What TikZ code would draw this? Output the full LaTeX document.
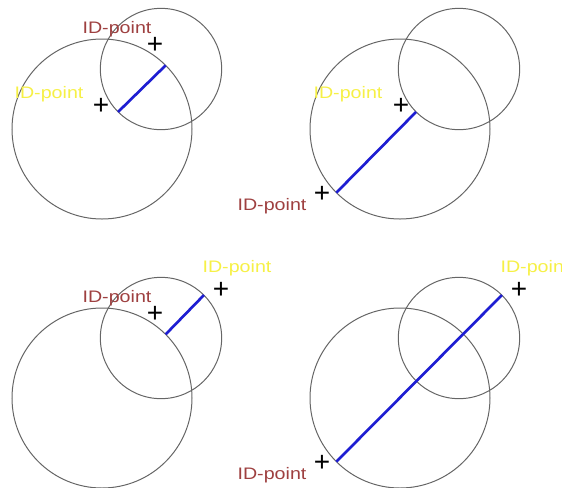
\documentclass[tikz,border=0pt]{standalone}
\usepackage{fontspec}
\setmainfont{Liberation Sans}
\definecolor{idred}{RGB}{158,64,64}
\definecolor{idyellow}{RGB}{246,240,70}
\definecolor{segblue}{RGB}{30,30,210}
\newcommand{\idtext}{\scalebox{1.18}[1]{ID-point}}
\begin{document}
\begin{tikzpicture}[x=0.75pt, y=-0.75pt,
  ring/.style={draw=black!60, line width=0.75pt, circle, inner sep=0pt, outer sep=0pt},
  bigring/.style={ring, minimum size=135pt},
  smallring/.style={ring, minimum size=91pt},
  plusmark/.style={inner sep=0pt, font=\fontsize{21}{21}\selectfont},
  idlabel/.style={inner sep=0pt, anchor=base, font=\fontsize{12.5}{12.5}\selectfont},
  seg/.style={draw=segblue, line width=2pt}]
\useasboundingbox (0,0) rectangle (562,487);
\clip (0,0) rectangle (562,487);

% top left: overlap of both circles
\begin{scope}
\node[bigring] (big1) at (102,129) {};
\node[smallring] (small1) at (161,69) {};
\draw[seg] (small1.225) -- (big1.45);
\node[plusmark] (plusA1) at (155,45) {+};
\node[plusmark] (plusB1) at (101,106) {+};
\node[idlabel, text=idred] (idA1) at (117,33) {\idtext};
\node[idlabel, text=idyellow] (idB1) at (49,98) {\idtext};
\end{scope}

% top right: big circle only
\begin{scope}[shift={(298,0)}]
\node[bigring] (big2) at (102,129) {};
\node[smallring] (small2) at (161,69) {};
\draw[seg] (big2.225) -- (small2.225);
\node[plusmark] (plusB2) at (103,106) {+};
\node[plusmark] (plusC2) at (24,194) {+};
\node[idlabel, text=idyellow] (idB2) at (50,98) {\idtext};
\node[idlabel, text=idred] (idC2) at (-26,210) {\idtext};
\end{scope}

% bottom left: small circle only
\begin{scope}[shift={(0,269)}]
\node[bigring] (big3) at (102,129) {};
\node[smallring] (small3) at (161,69) {};
\draw[seg] (big3.45) -- (small3.45);
\node[plusmark] (plusA3) at (155,45) {+};
\node[plusmark] (plusD3) at (221,21) {+};
\node[idlabel, text=idred] (idA3) at (117,33) {\idtext};
\node[idlabel, text=idyellow] (idD3) at (237,3) {\idtext};
\end{scope}

% bottom right: whole extent
\begin{scope}[shift={(298,269)}]
\node[bigring] (big4) at (102,129) {};
\node[smallring] (small4) at (161,69) {};
\draw[seg] (big4.225) -- (small4.45);
\node[plusmark] (plusC4) at (24,194) {+};
\node[plusmark] (plusD4) at (221,21) {+};
\node[idlabel, text=idred] (idC4) at (-26,210) {\idtext};
\node[idlabel, text=idyellow] (idD4) at (237,3) {\idtext};
\end{scope}
\end{tikzpicture}
\end{document}
